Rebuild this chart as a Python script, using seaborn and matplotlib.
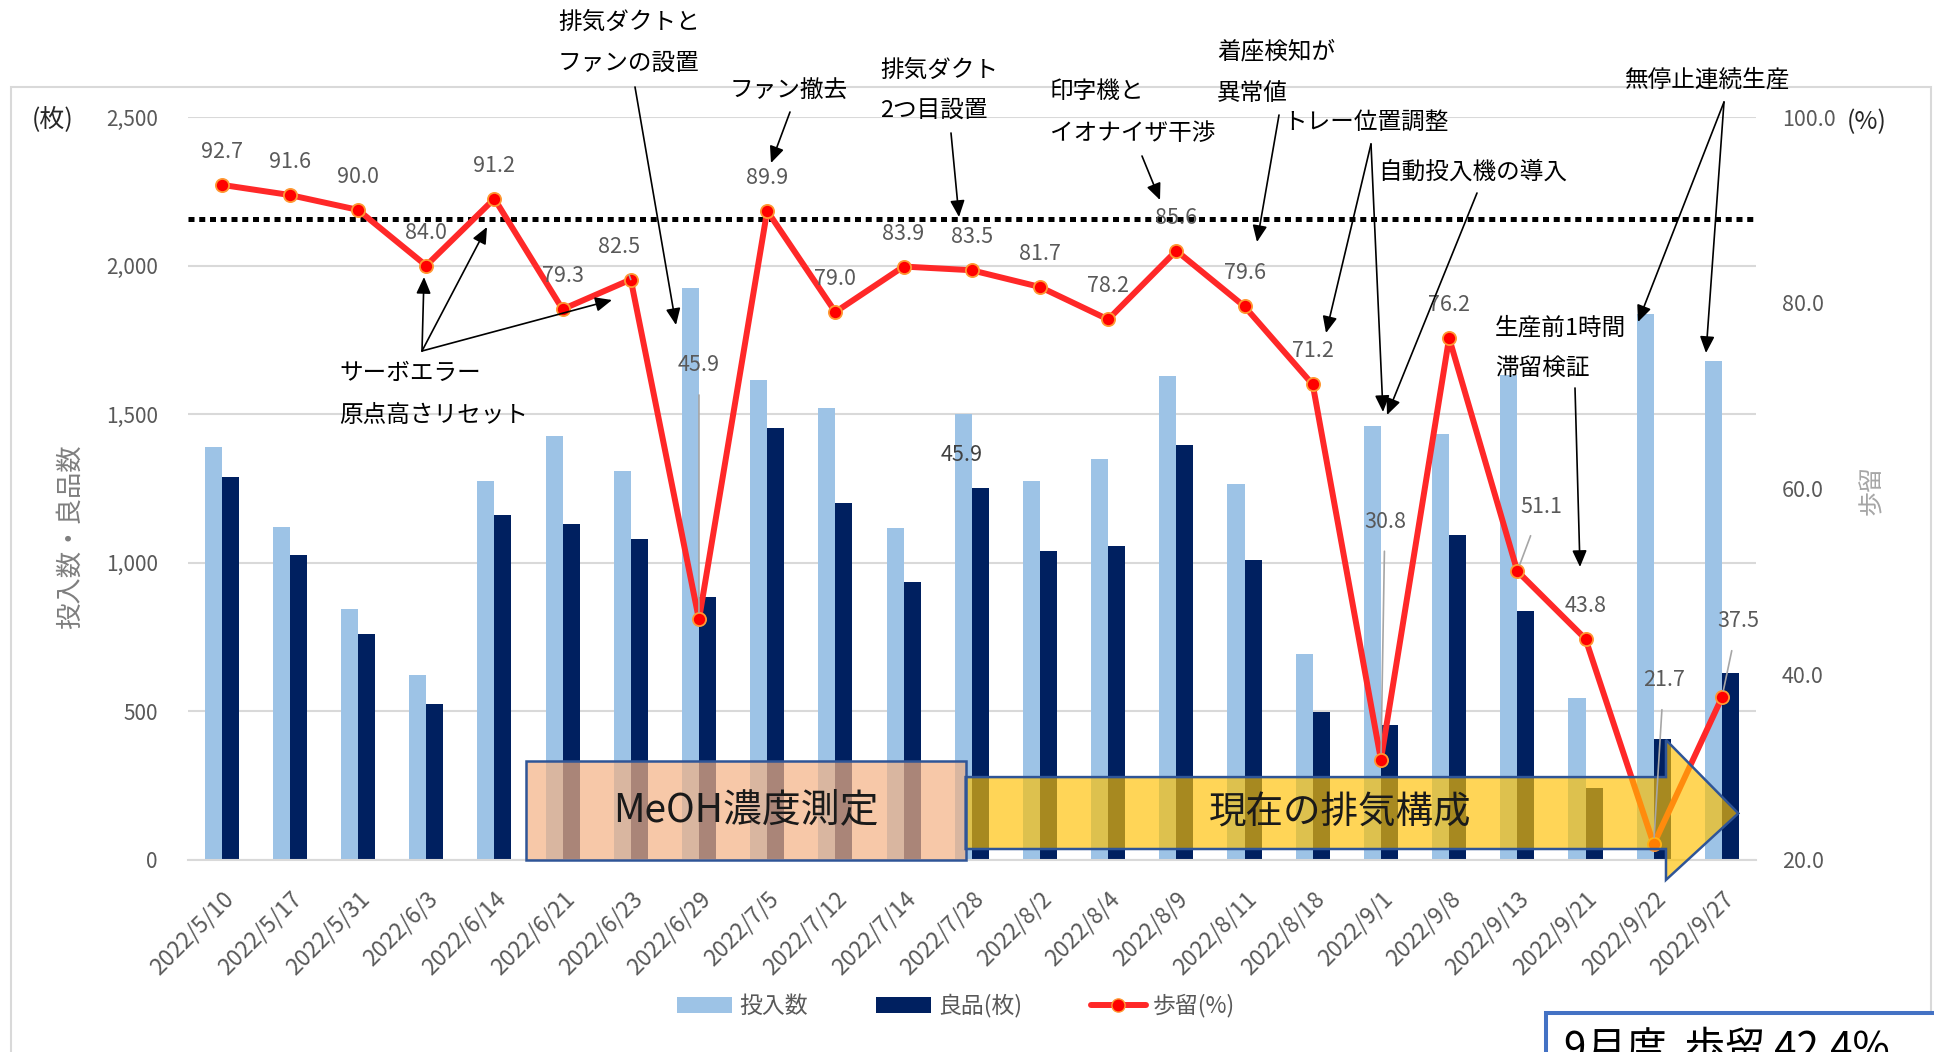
import numpy as np
import pandas as pd
import matplotlib
matplotlib.use("Agg")
import matplotlib.pyplot as plt
import matplotlib.ticker as mticker
from matplotlib.patches import Rectangle, Polygon, Patch
from matplotlib.lines import Line2D
import seaborn as sns

# ---------------- data ----------------
dates = ["2022/5/10", "2022/5/17", "2022/5/31", "2022/6/3", "2022/6/14", "2022/6/21",
         "2022/6/23", "2022/6/29", "2022/7/5", "2022/7/12", "2022/7/14", "2022/7/28",
         "2022/8/2", "2022/8/4", "2022/8/9", "2022/8/11", "2022/8/18", "2022/9/1",
         "2022/9/8", "2022/9/13", "2022/9/21", "2022/9/22", "2022/9/27"]
input_qty = [1391, 1121, 843, 621, 1274, 1428, 1310, 1923, 1615, 1522, 1116, 1500,
             1274, 1349, 1628, 1265, 693, 1461, 1435, 1632, 546, 1836, 1679]
good_qty = [1288, 1026, 760, 525, 1162, 1131, 1081, 886, 1454, 1202, 935, 1251,
            1040, 1058, 1395, 1008, 499, 454, 1094, 838, 241, 406, 630]
yield_pct = [92.7, 91.6, 90.0, 84.0, 91.2, 79.3, 82.5, 45.9, 89.9, 79.0, 83.9, 83.5,
             81.7, 78.2, 85.6, 79.6, 71.2, 30.8, 76.2, 51.1, 43.8, 21.7, 37.5]
target_yield = 89.0
series_names = ["投入数", "良品(枚)"]
yield_name = "歩留(%)"
left_ticks = [0, 500, 1000, 1500, 2000, 2500]
right_ticks = [20, 40, 60, 80, 100]
month_summary = "9月度  歩留 42.4%"

# ---------------- style ----------------
LIGHT = "#9DC3E6"
DARK = "#002060"
RED = "#FF2828"
GRID = "#D9D9D9"
TXT = "#595959"
W_PX, H_PX, DPI = 1934, 1052, 100

sns.set_theme(style="white")
plt.rcParams["font.family"] = ["Noto Sans CJK JP", "DejaVu Sans"]

fig = plt.figure(figsize=(W_PX / DPI, H_PX / DPI), dpi=DPI)


def fx(x):
    return x / W_PX


def fy(y):
    return 1 - y / H_PX


AX_L, AX_R, AX_T, AX_B = 187.5, 1756, 117, 860
ax = fig.add_axes([fx(AX_L), fy(AX_B), fx(AX_R) - fx(AX_L), fy(AX_T) - fy(AX_B)])

n = len(dates)
df = pd.DataFrame({
    "date": dates * 2,
    "series": [series_names[0]] * n + [series_names[1]] * n,
    "value": input_qty + good_qty,
})
sns.barplot(data=df, x="date", y="value", hue="series", order=dates,
            hue_order=series_names, palette=[LIGHT, DARK], width=0.5, gap=0,
            saturation=1, linewidth=0, errorbar=None, legend=False, ax=ax)

ax.set_ylim(0, 2500)
ax.set_yticks(left_ticks)
ax.yaxis.set_major_formatter(mticker.FuncFormatter(lambda v, p: f"{int(v):,}"))
ax.grid(axis="y", color=GRID, lw=1.5)
ax.grid(axis="x", visible=False)
ax.set_axisbelow(True)
for s in ["top", "left", "right"]:
    ax.spines[s].set_visible(False)
ax.spines["bottom"].set_color(GRID)
ax.spines["bottom"].set_linewidth(1.5)
ax.set_xlabel("")
ax.set_ylabel("")
ax.set_xticks(range(n))
ax.set_xticklabels(dates, rotation=45, ha="right", va="top", rotation_mode="anchor",
                   fontsize=16.5, color=TXT)
ax.set_xticks(np.arange(-0.5, n, 1), minor=True)
ax.tick_params(axis="x", which="major", length=0, pad=19.5)
ax.tick_params(axis="x", which="minor", length=4.5, width=1.2, color=GRID, direction="out")
ax.tick_params(axis="y", length=0, pad=21.5, labelsize=15, labelcolor=TXT)

ax2 = ax.twinx()
ax2.axhline(target_yield, color="black", lw=3.6, ls=(0, (1.2, 0.95)), zorder=2)
sns.lineplot(x=np.arange(n), y=yield_pct, ax=ax2, color=RED, lw=4.3, marker="o",
             markersize=9.5, markerfacecolor="#FF0000", markeredgecolor="#FF9933",
             markeredgewidth=1.3, sort=False, legend=False, zorder=3)
for s in ax2.spines.values():
    s.set_visible(False)
ax2.set_ylabel("")
ax2.grid(False)
ax2.tick_params(axis="y", length=0, pad=18.7, labelsize=15.5, labelcolor=TXT)

# ---------- phase boxes (MeOH / current exhaust) ----------
meoh = Rectangle((4.47, 1), 10.91 - 4.47, 332, transform=ax.transData,
                 facecolor="#F4B183", alpha=0.7, edgecolor="none", zorder=5, clip_on=False)
ax2.add_patch(meoh)
ax2.add_patch(Rectangle((4.47, 1), 10.91 - 4.47, 332, transform=ax.transData,
                        facecolor="none", edgecolor="#2F5597", lw=1.8, zorder=5.1, clip_on=False))
arrow_pts = [(10.91, 279), (21.18, 279), (21.18, 404), (22.24, 157),
             (21.18, -67), (21.18, 37), (10.91, 37)]
ax2.add_patch(Polygon(arrow_pts, closed=True, transform=ax.transData, facecolor="#FFC000",
                      alpha=0.66, edgecolor="none", zorder=5, clip_on=False))
ax2.add_patch(Polygon(arrow_pts, closed=True, transform=ax.transData, facecolor="none",
                      edgecolor="#2F5597", lw=1.8, zorder=5.1, clip_on=False))
ax2.text(7.69, 166, "MeOH濃度測定", transform=ax.transData, ha="center", va="center",
         fontsize=28, color="#1A1A1A", zorder=6)
ax2.text(16.4, 158, "現在の排気構成", transform=ax.transData, ha="center", va="center",
         fontsize=27, color="#1A1A1A", zorder=6)

# ---------- data labels ----------
label_offsets = {6: (-12, 33, True), 7: (0, 254, True), 17: (4, 238, True),
                 19: (24, 64, True), 21: (10, 164, True), 22: (16, 76, True)}
for i, v in enumerate(yield_pct):
    dx, dy, leader = label_offsets.get(i, (0, 33, False))
    ap = dict(arrowstyle="-", color="#A6A6A6", lw=1.2, shrinkA=11, shrinkB=5) if leader else None
    ax2.annotate(f"{v:.1f}", xy=(i, v), xytext=(dx, dy), textcoords="offset pixels",
                 ha="center", va="center", fontsize=15.5, color=TXT, zorder=7,
                 arrowprops=ap, annotation_clip=False)

ax.set_xlim(-0.5, n - 0.5)
ax2.set_ylim(20, 100)
ax2.set_yticks(right_ticks)
ax2.yaxis.set_major_formatter(mticker.FormatStrFormatter("%.1f"))

# ---------- annotations ----------
def note(x, y, s, size=17):
    fig.text(fx(x), fy(y), s, ha="left", va="center", fontsize=size, color="black")


def arrow(x0, y0, x1, y1):
    ax2.annotate("", xy=(x1, H_PX - y1), xycoords="figure pixels",
                 xytext=(x0, H_PX - y0), textcoords="figure pixels",
                 arrowprops=dict(arrowstyle="-|>,head_length=0.5,head_width=0.22",
                                 mutation_scale=20, color="black", lw=1.2,
                                 shrinkA=0, shrinkB=0),
                 zorder=8)


note(339, 373, "サーボエラー")
note(339, 415, "原点高さリセット")
arrow(422, 351, 424, 277)
arrow(422, 351, 487, 227)
arrow(422, 351, 612, 300)

note(558, 22, "排気ダクトと")
note(558, 63, "ファンの設置")
arrow(635, 87, 676, 325)

note(730, 90, "ファン撤去")
arrow(790, 112, 771, 163)

note(880, 70, "排気ダクト")
note(880, 110, "2つ目設置")
arrow(951, 133, 959, 217)

note(1050, 92, "印字機と")
note(1050, 133, "イオナイザ干渉")
arrow(1142, 156, 1160, 200)

note(1217, 52, "着座検知が")
note(1217, 93, "異常値")
arrow(1279, 115, 1257, 242)

note(1283, 122, "トレー位置調整")
arrow(1371, 144, 1326, 333)
arrow(1371, 144, 1383, 412)

note(1378, 172, "自動投入機の導入")
arrow(1477, 193, 1387, 415)

note(1625, 80, "無停止連続生産")
arrow(1724, 102, 1638, 322)
arrow(1724, 102, 1706, 353)

note(1495, 328, "生産前1時間")
note(1495, 368, "滞留検証")
arrow(1575, 388, 1580, 567)

fig.text(fx(962), fy(455), "45.9", ha="center", va="center", fontsize=15.5, color="#404040")

# axis titles
fig.text(fx(53), fy(119), "(枚)", ha="center", va="center", fontsize=18, color="#262626")
fig.text(fx(1867), fy(122), "(%)", ha="center", va="center", fontsize=18, color="#262626")
fig.text(fx(70), fy(537), "投入数・良品数", ha="center", va="center", rotation=90,
         fontsize=19, color="#7F7F7F")
fig.text(fx(1872), fy(490), "歩留", ha="center", va="center", rotation=90,
         fontsize=18, color="#A6A6A6")

# legend
handles = [Patch(facecolor=LIGHT, edgecolor="none"), Patch(facecolor=DARK, edgecolor="none"),
           Line2D([0], [0], color=RED, lw=4.3, marker="o", ms=9.5, mfc="#FF0000", mec="#FF9933")]
fig.legend(handles, series_names + [yield_name], loc="center",
           bbox_to_anchor=(fx(956), fy(1006)), ncol=3, frameon=False, fontsize=16.5,
           handlelength=2.4, handleheight=0.7, handletextpad=0.3, columnspacing=3.0,
           labelcolor=TXT)

# outer chart border and summary box
fig.add_artist(Rectangle((fx(11), fy(1080)), fx(1931) - fx(11), fy(87) - fy(1080),
                         transform=fig.transFigure, facecolor="none", edgecolor=GRID,
                         lw=1.5, zorder=-1))
fig.add_artist(Rectangle((fx(1546), fy(1100)), fx(1990) - fx(1546), fy(1013) - fy(1100),
                         transform=fig.transFigure, facecolor="white", edgecolor="#4472C4",
                         lw=2.9, zorder=10))
fig.text(fx(1564), fy(1029), month_summary, ha="left", va="top", fontsize=29,
         color="black", zorder=11)

fig.savefig("out.png", dpi=DPI)
